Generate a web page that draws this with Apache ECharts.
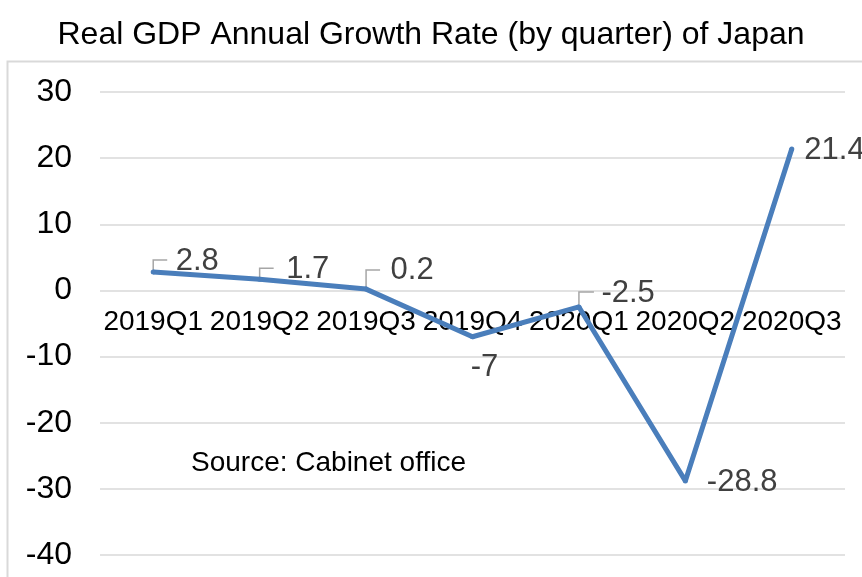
<!DOCTYPE html>
<html>
<head>
<meta charset="utf-8">
<script src="https://cdn.jsdelivr.net/npm/echarts@6/dist/echarts.min.js"></script>
<style>
  html, body { margin: 0; padding: 0; background: #fff; }
  #chart { width: 862px; height: 577px; }
</style>
</head>
<body>
<div id="chart"></div>
<script>
// data
const quarters = ['2019Q1', '2019Q2', '2019Q3', '2019Q4', '2020Q1', '2020Q2', '2020Q3'];
const growthRate = [2.8, 1.7, 0.2, -7, -2.5, -28.8, 21.4];
const yTicks = { min: -40, max: 30, step: 10 };

// where each data label sits relative to its point (Excel-like callouts)
// guide = [rise, run] of the little bent leader line, or null
const labelPlacement = [
    { position: 'right', offset: [20, -10], guide: [12, 14] },
    { position: 'right', offset: [24, -10], guide: [11, 14] },
    { position: 'right', offset: [22, -19], guide: [19, 14] },
    { position: 'bottom', offset: [12, 0], distance: 13, guide: null },
    { position: 'right', offset: [20, -14], guide: [15, 15] },
    { position: 'right', offset: [19, 2], guide: null },
    { position: 'right', offset: [10, 2], guide: null }
];

const font = 'Liberation Sans, Arial, sans-serif';
const grid = { left: 100, right: 17, top: 92, bottom: 22 };
const plotHeight = 577 - grid.top - grid.bottom;
// move the category axis up to the zero line
const zeroOffset = -plotHeight * (0 - yTicks.min) / (yTicks.max - yTicks.min);

const chart = echarts.init(document.getElementById('chart'));

const seriesData = growthRate.map((v, i) => {
    const p = labelPlacement[i];
    return {
        value: v,
        label: { position: p.position, offset: p.offset, distance: p.distance ?? 0 }
    };
});

const guideData = growthRate
    .map((v, i) => [i, v])
    .filter(d => labelPlacement[d[0]].guide);

chart.setOption({
    backgroundColor: '#fff',
    animation: false,
    title: [
        {
            text: 'Real GDP Annual Growth Rate (by quarter) of Japan',
            left: 'center',
            top: 14,
            textStyle: { fontFamily: font, fontSize: 32, fontWeight: 'normal', color: '#000' }
        },
        {
            text: 'Source: Cabinet office',
            left: 186,
            top: 444,
            textStyle: { fontFamily: font, fontSize: 28, fontWeight: 'normal', color: '#000' }
        }
    ],
    graphic: [{
        type: 'polyline',
        shape: { points: [[7.5, 577], [7.5, 61.5], [862, 61.5]] },
        style: { stroke: '#d9d9d9', lineWidth: 2, fill: null },
        silent: true
    }],
    grid: Object.assign({ outerBoundsMode: 'none', containLabel: false }, grid),
    xAxis: {
        type: 'category',
        data: quarters,
        boundaryGap: true,
        position: 'bottom',
        offset: zeroOffset,
        axisLine: { show: false, onZero: false },
        axisTick: { show: false },
        axisLabel: { fontFamily: font, fontSize: 28, color: '#000', margin: 18, interval: 0, hideOverlap: false }
    },
    yAxis: {
        type: 'value',
        min: yTicks.min,
        max: yTicks.max,
        interval: yTicks.step,
        axisLine: { show: false },
        axisTick: { show: false },
        axisLabel: { fontFamily: font, fontSize: 32, color: '#000', margin: 28 },
        splitLine: { lineStyle: { color: '#d9d9d9', width: 1.5 } }
    },
    series: [
        {
            type: 'custom',
            data: guideData,
            silent: true,
            z: 1,
            renderItem: (params, api) => {
                const i = api.value(0);
                const pt = api.coord([i, api.value(1)]);
                const [rise, run] = labelPlacement[i].guide;
                return {
                    type: 'polyline',
                    shape: { points: [[pt[0], pt[1] - 2], [pt[0], pt[1] - rise], [pt[0] + run, pt[1] - rise]] },
                    style: { stroke: '#a6a6a6', lineWidth: 1.5, fill: null }
                };
            }
        },
        {
            type: 'line',
            data: seriesData,
            z: 2,
            symbol: 'circle',
            symbolSize: 5,
            showSymbol: true,
            lineStyle: { color: '#4a7ebb', width: 5 },
            itemStyle: { color: '#4a7ebb' },
            label: {
                show: true,
                fontFamily: font,
                fontSize: 31,
                color: '#404040'
            }
        }
    ]
});
</script>
</body>
</html>
